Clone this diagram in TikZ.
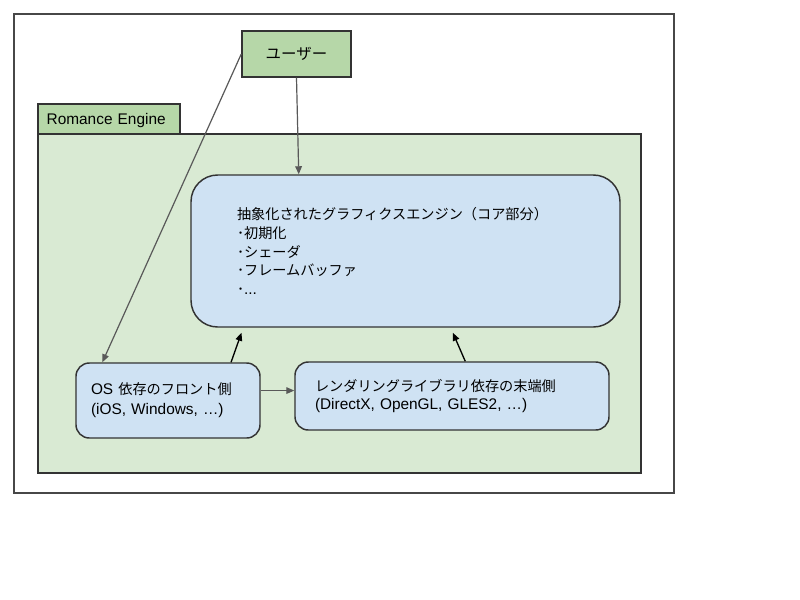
\documentclass[tikz,border=0pt]{standalone}
\usepackage{fontspec}
\setmainfont{Liberation Sans}
\newfontfamily\jp{Noto Sans CJK JP}[Scale=0.92]
\usetikzlibrary{arrows.meta,calc}
\definecolor{hdr}{HTML}{B6D7A8}
\definecolor{pane}{HTML}{D9EAD3}
\definecolor{card}{HTML}{CFE2F3}
\definecolor{edge}{HTML}{333333}
\definecolor{wire}{HTML}{595959}
\tikzset{
  frame/.style={draw=edge!90, line width=1.1pt, fill=white, inner sep=0pt},
  panebox/.style={draw=edge, line width=1.1pt, fill=pane, inner sep=0pt},
  tabbox/.style={draw=edge, line width=1.1pt, fill=hdr, inner ysep=0pt, align=left},
  userbox/.style={draw=edge, line width=1.1pt, fill=hdr, inner sep=0pt, align=center},
  cardbox/.style={draw=edge, line width=1.1pt, fill=card, inner ysep=0pt, align=left},
  wirearrow/.style={draw=wire, line width=0.9pt, -{Triangle[length=6pt,width=5pt]}},
  darkarrow/.style={draw=black, line width=1pt, -{Triangle[length=6pt,width=5pt]}},
  txt/.style={font=\fontsize{11.55pt}{14pt}\selectfont}
}
\begin{document}
\begin{tikzpicture}[x=0.75pt,y=-0.75pt]
\useasboundingbox (0,0) rectangle (800,600);
\node[frame, minimum width=495pt, minimum height=359.25pt] (outer) at (344,253.5) {};
\node[panebox, minimum width=452.25pt, minimum height=254.25pt] (pane) at (339.5,303.5) {};
\node[tabbox, txt, minimum width=106.5pt, minimum height=22.5pt, inner xsep=6.5pt, text width=93.5pt, text height=11pt, text depth=2.4pt] (tab) at (109,119) {Romance Engine};
\node[userbox, minimum width=81.75pt, minimum height=34.5pt, font=\fontsize{12.6pt}{14pt}\selectfont] (user) at (296.5,54) {\jp ユーザー};
\node[cardbox, txt, rounded corners=20pt, minimum width=321.75pt, minimum height=114pt, inner xsep=34.5pt, text width=252.75pt] (core) at (405.5,251)
  {{\jp 抽象化されたグラフィクスエンジン（コア部分）}\\{\jp ･初期化}\\{\jp ･シェーダ}\\{\jp ･フレームバッファ}\\{\jp ･}...};
\node[cardbox, txt, font=\fontsize{11.55pt}{15pt}\selectfont, rounded corners=10pt, minimum width=138pt, minimum height=56.25pt, inner xsep=11.25pt, text width=115.5pt] (os) at (168,400.5)
  {OS {\jp 依存のフロント側}\\(iOS, Windows, …)};
\node[cardbox, txt, font=\fontsize{11.55pt}{13.5pt}\selectfont, rounded corners=10pt, minimum width=235.5pt, minimum height=51pt, inner xsep=15pt, text width=205.5pt] (render) at (452,396)
  {{\jp レンダリングライブラリ依存の末端側}\\(DirectX, OpenGL, GLES2, …)};
% connectors
\draw[wirearrow] (user.west) -- ($(os.north west)!0.146!(os.north east)$);
\draw[wirearrow] (user.south) -- ($(core.north west)!0.252!(core.north east)$);
\draw[darkarrow] ($(os.north west)!0.84!(os.north east)$) -- ($(core.south west)!0.119!(core.south east)+(0,5)$);
\draw[darkarrow] ($(render.north west)!0.542!(render.north east)$) -- ($(core.south west)!0.61!(core.south east)+(0,5)$);
\coordinate (osout) at ($(os.north east)!0.37!(os.south east)$);
\draw[wirearrow] (osout) -- (osout -| render.west);
\end{tikzpicture}
\end{document}
